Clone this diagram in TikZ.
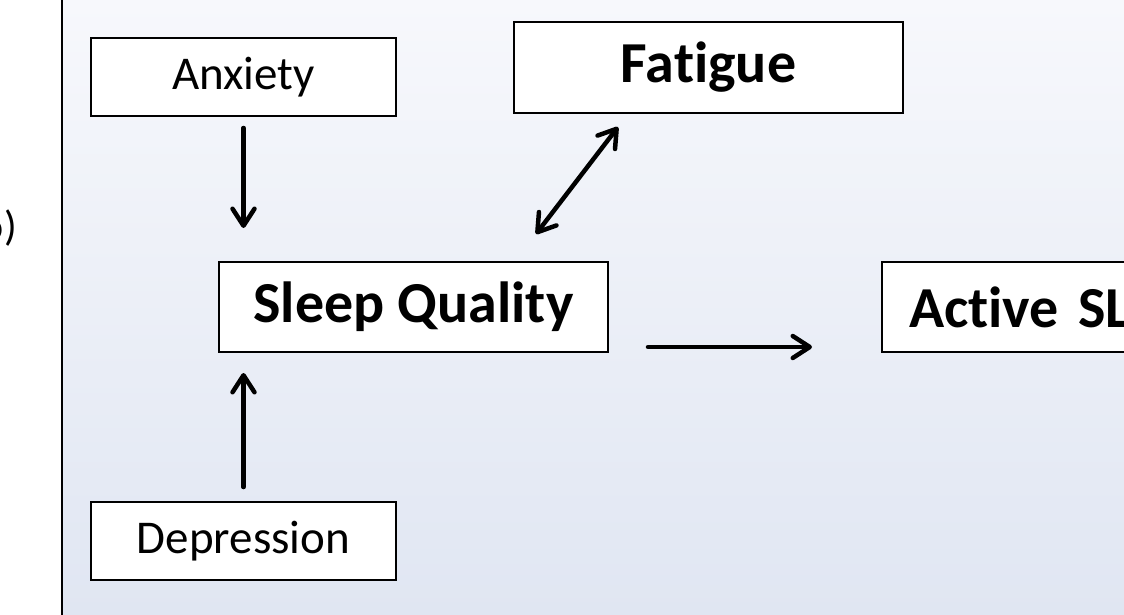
\documentclass[tikz,border=0pt]{standalone}
\usepackage{fontspec}
\setmainfont{Carlito}[Ligatures=NoCommon]
\usetikzlibrary{arrows.meta}

\definecolor{paneltop}{RGB}{247,248,252}
\definecolor{panelbottom}{RGB}{224,230,242}

\begin{document}
\begin{tikzpicture}[x=1pt, y=-1pt,
    box/.style={draw, line width=2pt, fill=white, inner sep=0pt},
    smallbox/.style={box, minimum width=305pt, minimum height=78pt,
        font=\fontsize{47}{56}\selectfont},
    bigbox/.style={box, minimum width=389pt, minimum height=90pt,
        font=\fontsize{58}{70}\selectfont\bfseries},
    link/.style={line width=4.5pt, line cap=round,
        -{Straight Barb[length=17pt, width=22pt, line cap=round, line join=round]}},
    twolink/.style={link,
        {Straight Barb[length=17pt, width=22pt, line cap=round, line join=round]}-{Straight Barb[length=17pt, width=22pt, line cap=round, line join=round]}}]
    \useasboundingbox (0,0) rectangle (1124,615);

    % panel background and its left edge
    \shade[top color=paneltop, bottom color=panelbottom] (63,0) rectangle (1124,615);
    \draw[line width=2pt] (62,0) -- (62,615);
    \node[anchor=base east, inner sep=0pt, font=\fontsize{42}{50}\selectfont] (lefttxt) at (17,240) {o)};

    % boxes
    \node[smallbox] (anx) at (243.5,77) {Anxiety};
    \node[smallbox] (dep) at (243.5,541) {Depression};
    \node[bigbox] (sleep) at (413.5,307) {Sleep Quality};
    \node[bigbox, minimum height=91pt] (fat) at (708.5,67.5) {Fatigue};
    \node[bigbox, anchor=west, align=left, text width=340pt, inner xsep=27pt] (act) at (881,307) {Active SL};

    % arrows
    \draw[link] ([yshift=-11pt]anx.south) -- ([yshift=33pt]anx.south |- sleep.north);
    \draw[link] ([yshift=14pt]dep.north) -- ([yshift=-20pt]dep.north |- sleep.south);
    \draw[link] ([xshift=39pt, yshift=-40pt]sleep.east) -- ([xshift=-69pt, yshift=-40pt]act.west);
    \draw[twolink] ([xshift=-90.5pt, yshift=-13pt]fat.south) -- ([xshift=122.5pt, yshift=27pt]sleep.north);
\end{tikzpicture}
\end{document}
